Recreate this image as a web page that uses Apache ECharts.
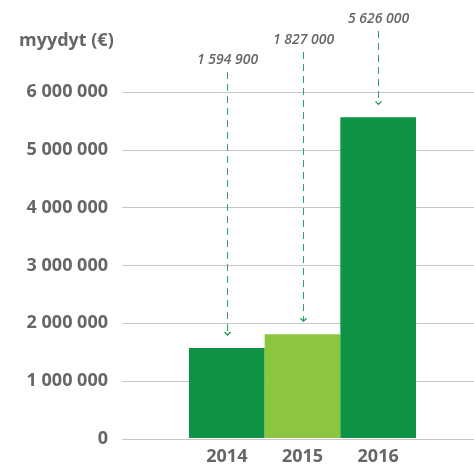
<!DOCTYPE html>
<html>
<head>
<meta charset="utf-8">
<script src="https://cdn.jsdelivr.net/npm/echarts@6/dist/echarts.min.js"></script>
<style>
  html, body { margin: 0; padding: 0; background: #fff; }
  #chart { width: 474px; height: 466px; }
</style>
</head>
<body>
<div id="chart"></div>
<script>
  // data
  var years = ['2014', '2015', '2016']
  var barValues = [1560000, 1800000, 5560000]
  var valueLabels = ['1 594 900', '1 827 000', '5 626 000']
  var yTicks = [0, 1000000, 2000000, 3000000, 4000000, 5000000, 6000000]

  var darkGreen = '#0e9245'
  var lightGreen = '#8cc63f'
  var grey = '#666666'

  // pixel heights of the staggered value labels (styling only)
  var labelY = [60, 40, 19]

  function spaced (v) {
    return String(v).replace(/\B(?=(\d{3})+(?!\d))/g, ' ')
  }

  var myEcharts = echarts.init(document.getElementById('chart'))

  var option = {
    animation: false,
    title: {
      text: 'myydyt (€)',
      left: 14,
      top: 27,
      textStyle: { fontFamily: 'Open Sans', fontSize: 18, fontWeight: 'bold', color: grey }
    },
    grid: [
      { left: 122, right: 0, top: 92, bottom: 27 },
      { left: 189, width: 227, top: 92, bottom: 27 }
    ],
    xAxis: [
      { gridIndex: 0, type: 'category', data: [], show: false },
      {
        gridIndex: 1,
        type: 'category',
        data: years,
        axisLine: { show: false },
        axisTick: { show: false },
        axisLabel: {
          margin: 10,
          fontFamily: 'Open Sans', fontSize: 18, fontWeight: 'bold', color: grey
        }
      }
    ],
    yAxis: [
      {
        gridIndex: 0,
        type: 'value',
        min: yTicks[0],
        max: yTicks[yTicks.length - 1],
        interval: yTicks[1] - yTicks[0],
        axisLine: { show: false },
        axisTick: { show: false },
        splitLine: { lineStyle: { color: '#c6c6c6', width: 1 } },
        axisLabel: {
          margin: 14,
          formatter: spaced,
          fontFamily: 'Open Sans', fontSize: 18, fontWeight: 'bold', color: grey
        }
      },
      {
        gridIndex: 1,
        type: 'value',
        min: yTicks[0],
        max: yTicks[yTicks.length - 1],
        show: false
      }
    ],
    series: [
      {
        type: 'bar',
        xAxisIndex: 1,
        yAxisIndex: 1,
        barCategoryGap: 0,
        data: barValues.map(function (v, i) {
          return { value: v, itemStyle: { color: i === 1 ? lightGreen : darkGreen } }
        })
      },
      {
        // dashed arrows with the value labels
        type: 'custom',
        xAxisIndex: 1,
        yAxisIndex: 1,
        clip: false,
        z: 5,
        data: barValues.map(function (v, i) { return [i, v] }),
        renderItem: function (params, api) {
          var i = params.dataIndex
          var pt = api.coord([api.value(0), api.value(1)])
          var x = Math.round(pt[0]) + 0.5
          var y0 = labelY[i] + 12
          var y1 = pt[1] - 13
          return {
            type: 'group',
            children: [
              {
                type: 'line',
                shape: { x1: x, y1: y0, x2: x, y2: y1 },
                style: { stroke: '#2fa560', lineWidth: 1, lineDash: [7, 5] }
              },
              {
                type: 'polyline',
                shape: { points: [[x - 3, y1 - 3], [x, y1], [x + 3, y1 - 3]] },
                style: { stroke: '#1b9a50', lineWidth: 1.3, fill: null }
              },
              {
                type: 'text',
                x: x,
                y: labelY[i],
                style: {
                  text: valueLabels[i],
                  align: 'center',
                  verticalAlign: 'middle',
                  fontFamily: 'Open Sans',
                  fontStyle: 'italic',
                  fontWeight: 600,
                  fontSize: 14,
                  fill: grey
                }
              }
            ]
          }
        }
      }
    ]
  }

  myEcharts.setOption(option)
</script>
</body>
</html>
